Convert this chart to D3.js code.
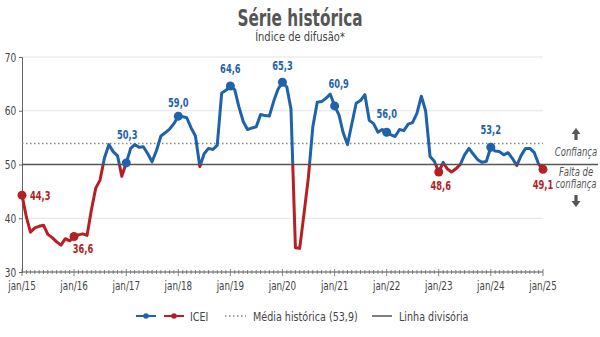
<!DOCTYPE html>
<html>
<head>
<meta charset="utf-8">
<script src="https://cdn.jsdelivr.net/npm/d3@7"></script>
<style>
  body { margin: 0; background: #fff; }
  svg text { font-family: "Liberation Sans Narrow", "DejaVu Sans Condensed", sans-serif; }
</style>
</head>
<body>
<div id="chart"></div>
<script>
// ICEI monthly, jan/15 .. jan/25
var icei2015 = [44.3, 40.2, 37.4, 38.2, 38.5, 38.7, 37.0, 36.4, 35.6, 35.0, 36.2, 35.8];
var icei2016 = [36.6, 36.9, 37.1, 36.8, 41.5, 45.6, 47.1, 51.2, 53.7, 52.4, 51.6, 47.8];
var icei2017 = [50.3, 53.0, 53.7, 53.2, 53.3, 52.0, 50.5, 52.6, 55.3, 55.9, 56.6, 57.6];
var icei2018 = [59.0, 58.9, 58.7, 56.8, 55.3, 49.6, 52.0, 53.0, 52.8, 53.6, 63.3, 63.8];
var icei2019 = [64.6, 63.9, 60.8, 58.0, 56.5, 56.8, 57.0, 59.3, 59.1, 59.0, 61.8, 64.0];
var icei2020 = [65.3, 64.4, 60.3, 34.5, 34.4, 41.0, 47.6, 57.0, 61.6, 61.7, 62.3, 63.1];
var icei2021 = [60.9, 59.2, 56.0, 53.7, 57.5, 61.4, 61.9, 63.0, 58.2, 57.6, 56.0, 56.5];
var icei2022 = [56.0, 55.5, 55.2, 56.5, 56.3, 57.5, 57.8, 59.5, 62.7, 60.0, 51.5, 50.6];
var icei2023 = [48.6, 50.4, 49.2, 48.6, 49.2, 50.0, 51.8, 53.0, 51.9, 50.9, 50.4, 50.6];
var icei2024 = [53.2, 52.5, 52.4, 51.8, 52.2, 51.1, 49.8, 51.7, 53.0, 53.0, 52.2, 50.1];
var icei2025 = [49.1];

var yearLabels = ["jan/15","jan/16","jan/17","jan/18","jan/19","jan/20","jan/21","jan/22","jan/23","jan/24","jan/25"];
var yTicks = [30, 40, 50, 60, 70];
var mediaHistorica = 53.9;
var linhaDivisoria = 50;

var blue = "#1d62aa", red = "#b52025", grey = "#555";

var series = [].concat(icei2015, icei2016, icei2017, icei2018, icei2019,
                       icei2020, icei2021, icei2022, icei2023, icei2024, icei2025);
var start = new Date(2015, 0, 1);
var data = series.map(function(v, i){ return {date: d3.timeMonth.offset(start, i), value: v, i: i}; });

var W = 600, H = 337;
var svg = d3.select("#chart").append("svg").attr("width", W).attr("height", H);

var x = d3.scaleTime().domain([start, d3.timeMonth.offset(start, 120)]).range([22, 543]);
var y = d3.scaleLinear().domain([30, 70]).range([272, 57]);

// condensed text: squeeze horizontally around its anchor point
var txt = function(parent, tx, ty, s, size, k){
    return parent.append("text")
        .attr("transform", "translate(" + tx + "," + ty + ") scale(" + k + ",1)")
        .style("font-size", size + "px").text(s);
};

// title
txt(svg, 300, 26, "Série histórica", 23, 0.74).attr("text-anchor", "middle")
    .style("font-weight", "bold").style("fill", "#555");
txt(svg, 300, 41, "Índice de difusão*", 13, 0.85).attr("text-anchor", "middle").style("fill", "#444");

// gridlines
svg.append("g").selectAll("line").data(yTicks.filter(function(d){ return d != 30 && d != 50; }))
    .enter().append("line")
    .attr("x1", 22).attr("x2", 543)
    .attr("y1", function(d){ return y(d); }).attr("y2", function(d){ return y(d); })
    .style("stroke", "#e3e3e3").style("stroke-width", 1);

// y axis
var yAxis = svg.append("g").attr("transform", "translate(22,0)")
    .call(d3.axisLeft(y).tickValues(yTicks).tickSize(3).tickFormat(d3.format("d")));
yAxis.select(".domain").style("stroke", "#666");
yAxis.selectAll(".tick line").style("stroke", "#666");
yAxis.selectAll("text").attr("font-family", null).attr("font-size", null)
    .style("font-size", "12.5px").style("fill", "#444")
    .attr("transform", "translate(-1,0) scale(0.8,1)");

// x axis: month ticks + year labels
var months = d3.timeMonth.range(start, d3.timeMonth.offset(start, 121));
var xg = svg.append("g").attr("transform", "translate(0," + y(30) + ")");
xg.append("line").attr("x1", 22).attr("x2", 543).style("stroke", "#555").style("stroke-width", 1.2);
xg.selectAll(".mt").data(months).enter().append("line")
    .attr("x1", function(d){ return x(d); }).attr("x2", function(d){ return x(d); })
    .attr("y1", function(d){ return d.getMonth() == 0 ? -3 : -2; })
    .attr("y2", function(d){ return d.getMonth() == 0 ? 4 : 2; })
    .style("stroke", "#666").style("stroke-width", 0.8);
var yearTicks = months.filter(function(d){ return d.getMonth() == 0; });
yearTicks.forEach(function(d, i){
    txt(xg, x(d), 18, yearLabels[i], 12.5, 0.78).attr("text-anchor", "middle").style("fill", "#444");
});

// reference lines
svg.append("line").attr("x1", 22).attr("x2", 543)
    .attr("y1", y(mediaHistorica)).attr("y2", y(mediaHistorica))
    .style("stroke", "#888").style("stroke-width", 1.4).style("stroke-dasharray", "1.5,2.5");
svg.append("line").attr("x1", 22).attr("x2", 598)
    .attr("y1", y(linhaDivisoria)).attr("y2", y(linhaDivisoria))
    .style("stroke", "#555").style("stroke-width", 1.5);

// line split at 50: blue above, red below
var defs = svg.append("defs");
defs.append("clipPath").attr("id", "above").append("rect")
    .attr("x", 0).attr("y", 0).attr("width", W).attr("height", y(linhaDivisoria));
defs.append("clipPath").attr("id", "below").append("rect")
    .attr("x", 0).attr("y", y(linhaDivisoria)).attr("width", W).attr("height", H);

var line = d3.line().x(function(d){ return x(d.date); }).y(function(d){ return y(d.value); });
[["above", blue], ["below", red]].forEach(function(p){
    svg.append("path").datum(data).attr("clip-path", "url(#" + p[0] + ")")
        .attr("d", line).style("fill", "none").style("stroke", p[1])
        .style("stroke-width", 3).style("stroke-linejoin", "round").style("stroke-linecap", "round");
});

// january markers + value labels
var labelOffset = {0:[8,5,"start"], 12:[9,16,"middle"], 24:[1,-24,"middle"], 36:[0,-9,"middle"],
    48:[0,-13,"middle"], 60:[0,-12,"middle"], 72:[4,-18,"middle"], 84:[0,-14,"middle"],
    96:[2,18,"middle"], 108:[0,-13,"middle"], 120:[0,20,"middle"]};
var jans = data.filter(function(d){ return d.date.getMonth() == 0; });
var colorOf = function(d){ return d.value < linhaDivisoria ? red : blue; };
svg.selectAll(".dot").data(jans).enter().append("circle")
    .attr("cx", function(d){ return x(d.date); }).attr("cy", function(d){ return y(d.value); })
    .attr("r", 4.5).style("fill", colorOf);
jans.forEach(function(d){
    var o = labelOffset[d.i];
    txt(svg, x(d.date) + o[0], y(d.value) + o[1], d3.format(".1f")(d.value).replace(".", ","), 12.5, 0.74)
        .attr("text-anchor", o[2]).style("font-weight", "bold").style("fill", colorOf(d));
});

// right side annotation
var ann = svg.append("g").style("fill", grey);
var arrow = function(cx, tipY, dir){
    var h = 12, hw = 4.5, sw = 1.6, hh = 6;
    var p = d3.path();
    p.moveTo(cx, tipY);
    p.lineTo(cx + hw, tipY + dir * hh);
    p.lineTo(cx + sw, tipY + dir * hh);
    p.lineTo(cx + sw, tipY + dir * h);
    p.lineTo(cx - sw, tipY + dir * h);
    p.lineTo(cx - sw, tipY + dir * hh);
    p.lineTo(cx - hw, tipY + dir * hh);
    p.closePath();
    ann.append("path").attr("d", p.toString());
};
arrow(576, 128, 1);
arrow(576, 207, -1);
[["Confiança", 156], ["Falta de", 175.5], ["confiança", 188]].forEach(function(t){
    txt(ann, 576, t[1], t[0], 11.5, 0.82).attr("text-anchor", "middle").style("font-style", "italic");
});

// legend
var lg = svg.append("g").attr("transform", "translate(0,316)");
[[blue, 136], [red, 164]].forEach(function(c){
    lg.append("line").attr("x1", c[1]).attr("x2", c[1] + 20).style("stroke", c[0]).style("stroke-width", 2);
    lg.append("circle").attr("cx", c[1] + 10).attr("r", 2.8).style("fill", c[0]);
});
txt(lg, 190, 4.5, "ICEI", 13, 0.82).style("fill", "#444");
lg.append("line").attr("x1", 225).attr("x2", 246).style("stroke", "#888").style("stroke-width", 1.4)
    .style("stroke-dasharray", "1.5,2.5");
txt(lg, 253, 4.5, "Média histórica (" + String(mediaHistorica).replace(".", ",") + ")", 13, 0.82).style("fill", "#444");
lg.append("line").attr("x1", 372).attr("x2", 392).style("stroke", "#555").style("stroke-width", 1.5);
txt(lg, 399, 4.5, "Linha divisória", 13, 0.82).style("fill", "#444");
</script>
</body>
</html>
